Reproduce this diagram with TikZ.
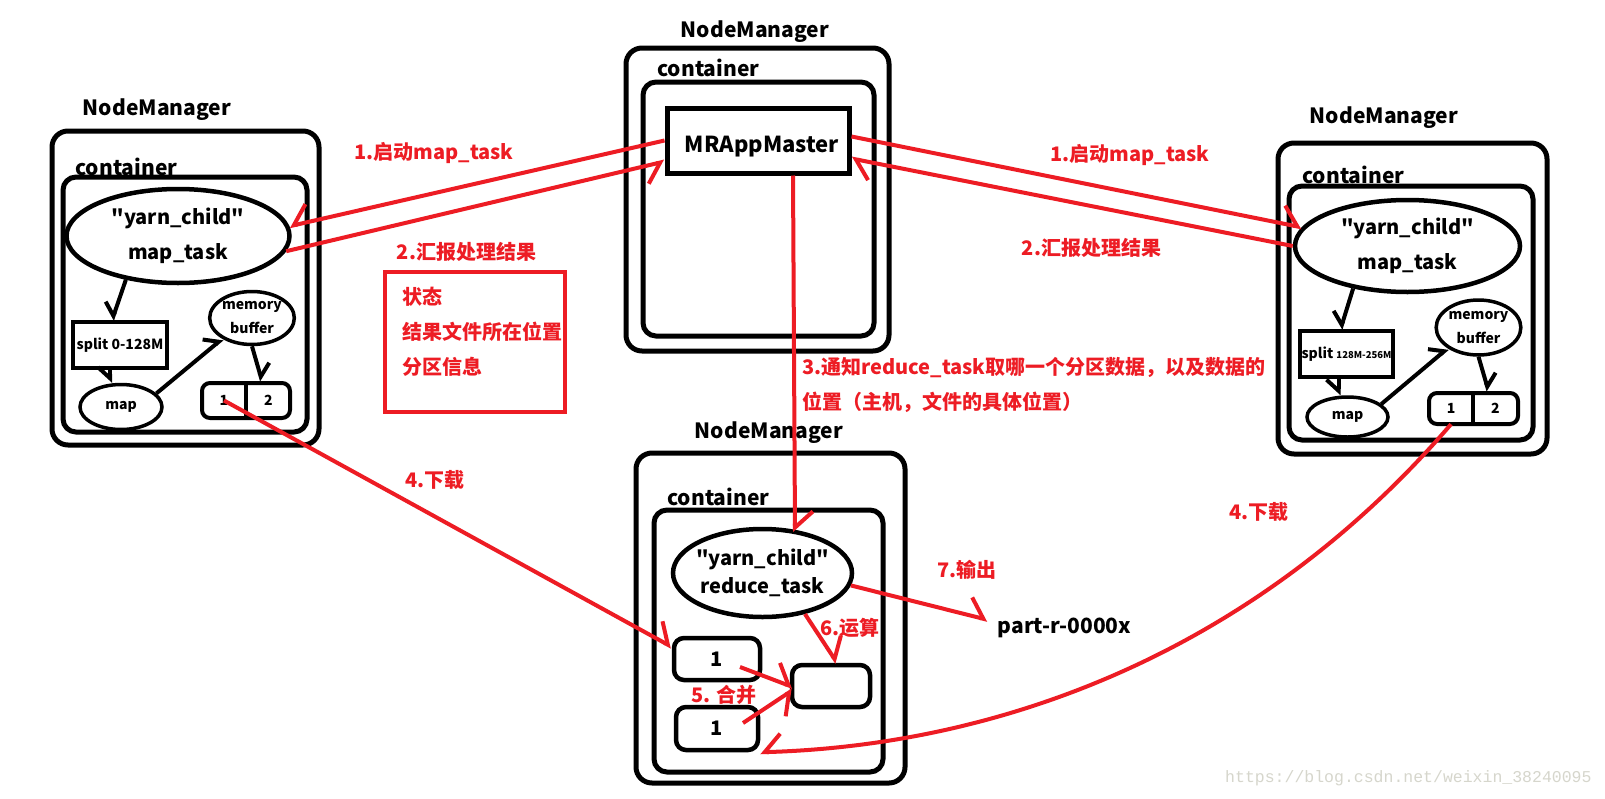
\documentclass[tikz,border=0pt]{standalone}
\usepackage{fontspec}
\setmainfont{Noto Sans CJK SC}
\newfontfamily\cjkfont{Noto Sans CJK SC}
\newfontfamily\wmfont{Liberation Mono}
\usetikzlibrary{arrows.meta, positioning, calc, shapes.geometric}

\definecolor{pred}{RGB}{237,28,36}
\definecolor{wmgray}{RGB}{214,214,204}
\newcommand{\fsz}[2]{\cjkfont\fontsize{#1}{#2}\selectfont\bfseries}

\begin{document}
\begin{tikzpicture}[x=1pt, y=-1pt,
    nmbox/.style={draw, line width=5pt, rounded corners=16pt, inner sep=0pt},
    ctbox/.style={draw, line width=5pt, rounded corners=13pt, inner sep=0pt},
    nmtitle/.style={font=\fsz{21}{25}, inner sep=0pt},
    cttitle/.style={font=\fsz{21}{25}, inner sep=0pt, anchor=west},
    task/.style={ellipse, draw, line width=4.5pt, inner sep=-12pt, align=center},
    small/.style={draw, line width=3.5pt, inner sep=0pt, font=\fsz{14}{16}},
    part/.style={draw, line width=4pt, rounded corners=8pt, inner sep=0pt},
    cell/.style={inner sep=0pt, minimum width=44pt, font=\fsz{14}{16}},
    sbox/.style={draw, line width=4.5pt, rounded corners=10pt, inner sep=0pt, font=\fsz{20}{24}},
    redtext/.style={text=pred, font=\fsz{20}{35}, inner sep=0pt},
    redline/.style={draw=pred, line width=4pt},
    redarr/.style={redline, -{Straight Barb[harpoon, length=16pt, width=36pt]}},
    redarrsw/.style={redline, -{Straight Barb[harpoon, swap, length=16pt, width=36pt]}},
    barr/.style={line width=4pt, -{Straight Barb[harpoon, length=11pt, width=24pt]}},
    barrsw/.style={line width=4pt, -{Straight Barb[harpoon, swap, length=11pt, width=24pt]}}
]
    \fill[white] (0,0) rectangle (1605,798);
    \useasboundingbox (0,0) rectangle (1605,798);

    % 左边 NodeManager
    \begin{scope}[shift={(185.5,288)}]
        \node[nmbox, minimum width=267pt, minimum height=314pt] (nmL) at (0,0) {};
        \node[ctbox, minimum width=244pt, minimum height=255pt] (ctL) at (-0.5,16.5) {};
        \node[nmtitle] (tL) at (-28.5,-178) {NodeManager};
        \node[cttitle] (cL) at (-110.5,-121) {container};
        \node[task, minimum width=223pt, minimum height=94pt, font=\fsz{20}{35}] (mtL) at (-7.5,-52) {"yarn\_child"\\map\_task};
        \node[small, minimum width=94pt, minimum height=46pt] (spL) at (-65.5,57) {split 0-128M};
        \node[small, ellipse, minimum width=82pt, minimum height=45pt] (mpL) at (-64.5,119) {map};
        \node[small, ellipse, align=center, minimum width=82pt, minimum height=53pt, font=\fsz{14}{24}] (mbL) at (66.5,30) {memory\\buffer};
        \node[part, minimum width=88pt, minimum height=35pt] (ptL) at (60.5,112.5) {};
        \node[cell, minimum height=35pt] (pL1) at (38.5,112.5) {1};
        \node[cell, minimum height=35pt, right=0pt of pL1] (pL2) {2};
        \draw[line width=4pt] (pL1.north east) -- (pL1.south east);
        \draw[barrsw] (mtL.-140) -- ($(spL.north)+(-8,0)$);
        \draw[barrsw] ($(spL.south)+(-10,0)$) -- ($(mpL.north)+(-11,0)$);
        \draw[barr] (mpL.21) -- (mbL.-145);
        \draw[barr] (mbL.south) -- ($(ptL.north)+(16,0)$);
    \end{scope}

    % 中间 NodeManager
    \begin{scope}[shift={(757.5,199.5)}]
        \node[nmbox, minimum width=263pt, minimum height=303pt] (nmM) at (0,0) {};
        \node[ctbox, minimum width=231pt, minimum height=254pt] (ctM) at (1,9.5) {};
        \node[nmtitle] (tM) at (-2.5,-167.5) {NodeManager};
        \node[cttitle] (cM) at (-100.5,-131.5) {container};
        \node[draw, line width=5pt, inner sep=0pt, minimum width=182pt, minimum height=65pt, text height=29pt, font=\fsz{22}{26}] (am) at (0.5,-59) {\hspace*{8pt}MRAppMaster};
    \end{scope}

    % 右边 NodeManager
    \begin{scope}[shift={(1412.5,298.5)}]
        \node[nmbox, minimum width=269pt, minimum height=311pt] (nmR) at (0,0) {};
        \node[ctbox, minimum width=244pt, minimum height=254pt] (ctR) at (-1.5,14.5) {};
        \node[nmtitle] (tR) at (-28.5,-180.5) {NodeManager};
        \node[cttitle] (cR) at (-110.5,-123.5) {container};
        \node[task, minimum width=225pt, minimum height=92pt, font=\fsz{20}{35}] (mtR) at (-5,-52.5) {"yarn\_child"\\map\_task};
        \node[small, minimum width=93pt, minimum height=46pt] (spR) at (-66,55.5) {split {\fsz{9.5}{10}128M-256M}};
        \node[small, ellipse, minimum width=81pt, minimum height=40pt] (mpR) at (-65,118.5) {map};
        \node[small, ellipse, align=center, minimum width=83pt, minimum height=55pt, font=\fsz{14}{24}] (mbR) at (66,29) {memory\\buffer};
        \node[part, minimum width=89pt, minimum height=31pt] (ptR) at (61,110) {};
        \node[cell, minimum height=31pt] (pR1) at (38.5,110) {1};
        \node[cell, minimum height=31pt, right=0pt of pR1] (pR2) {2};
        \draw[line width=4pt] (pR1.north east) -- (pR1.south east);
        \draw[barrsw] (mtR.-142) -- ($(spR.north)+(-6,0)$);
        \draw[barrsw] ($(spR.south)+(-8,0)$) -- ($(mpR.north)+(-9,0)$);
        \draw[barr] (mpR.21) -- (mbR.-146);
        \draw[barr] (mbR.south) -- ($(ptR.north)+(15,0)$);
    \end{scope}

    % 下边 NodeManager (reduce)
    \begin{scope}[shift={(770.5,618)}]
        \node[nmbox, minimum width=269pt, minimum height=330pt] (nmB) at (0,0) {};
        \node[ctbox, minimum width=229pt, minimum height=262pt] (ctB) at (-2,23) {};
        \node[nmtitle] (tB) at (-1.5,-185) {NodeManager};
        \node[cttitle] (cB) at (-103.5,-121) {container};
        \node[task, minimum width=179pt, minimum height=88pt, font=\fsz{20}{28}] (rt) at (-8,-45) {"yarn\_child"\\reduce\_task};
        \node[sbox, minimum width=86pt, minimum height=42pt] (fa) at (-53.5,41) {1};
        \node[sbox, minimum width=82pt, minimum height=43pt] (fb) at (-53.5,110.5) {1};
        \node[sbox, minimum width=78pt, minimum height=42pt] (mg) at (60.5,68) {};
        \node[redtext] (l6) at (79.5,10) {6.运算};
        \node[redtext] (l5) at (-46.5,77) {5. 合并};
        \draw[redarr] ($(fa.center)+(23,8)$) -- ($(mg.west)+(3,1)$);
        \draw[redarrsw] ($(fb.center)+(26,-5.5)$) -- ($(mg.west)+(3,4)$);
        \draw[redarr] (rt.-44) -- ($(mg.north)+(6,0)$);
    \end{scope}

    % 输出文件
    \node[font=\fsz{21}{25}, inner sep=0pt] (out) at (1064.5,628) {part-r-0000x};
    \node[redtext] (l7) at (967,570) {7.输出};
    \draw[redarr] (rt.-8) -- ($(out.north west)+(-10,2)$);

    % 红色说明
    \node[redtext] (l1L) at (434,153) {1.启动map\_task};
    \node[redtext] (l2L) at (466.5,252) {2.汇报处理结果};
    \node[draw=pred, line width=4pt, minimum width=180pt, minimum height=140pt, inner sep=0pt] (rb) at (475,342) {};
    \node[redtext, align=left, anchor=west] (st) at (402,332) {状态\\结果文件所在位置\\分区信息};
    \node[redtext] (l1R) at (1130,155) {1.启动map\_task};
    \node[redtext] (l2R) at (1091.5,248) {2.汇报处理结果};
    \node[redtext, align=left, anchor=west] (l3) at (802,384.5) {3.通知reduce\_task取哪一个分区数据，以及数据的\\位置（主机，文件的具体位置）};
    \node[redtext] (l4L) at (435,480) {4.下载};
    \node[redtext] (l4R) at (1259,512) {4.下载};

    % 红色箭头
    \draw[redarrsw] (am.west) -- (mtL.5);
    \draw[redarrsw] (mtL.-8) -- ($(am.west)+(0,21)$);
    \draw[redarr] ($(am.east)+(0,-4)$) -- (mtR.170);
    \draw[redarr] (mtR.west) -- ($(am.east)+(0,18)$);
    \draw[redarr] ($(am.south)+(35,0)$) -- ($(rt.center)+(32.5,-41)$);
    \draw[redarr] (pL1.center) -- (fa.165);
    \draw[redarrsw] (pR1.south) .. controls +(-195,227) and +(242,-7) .. (fb.south east);

    \node[font=\fontsize{16.5}{18}\wmfont, text=wmgray, anchor=west, inner sep=0pt] (wm) at (1225,778) {https://blog.csdn.net/weixin\_38240095};
\end{tikzpicture}
\end{document}
